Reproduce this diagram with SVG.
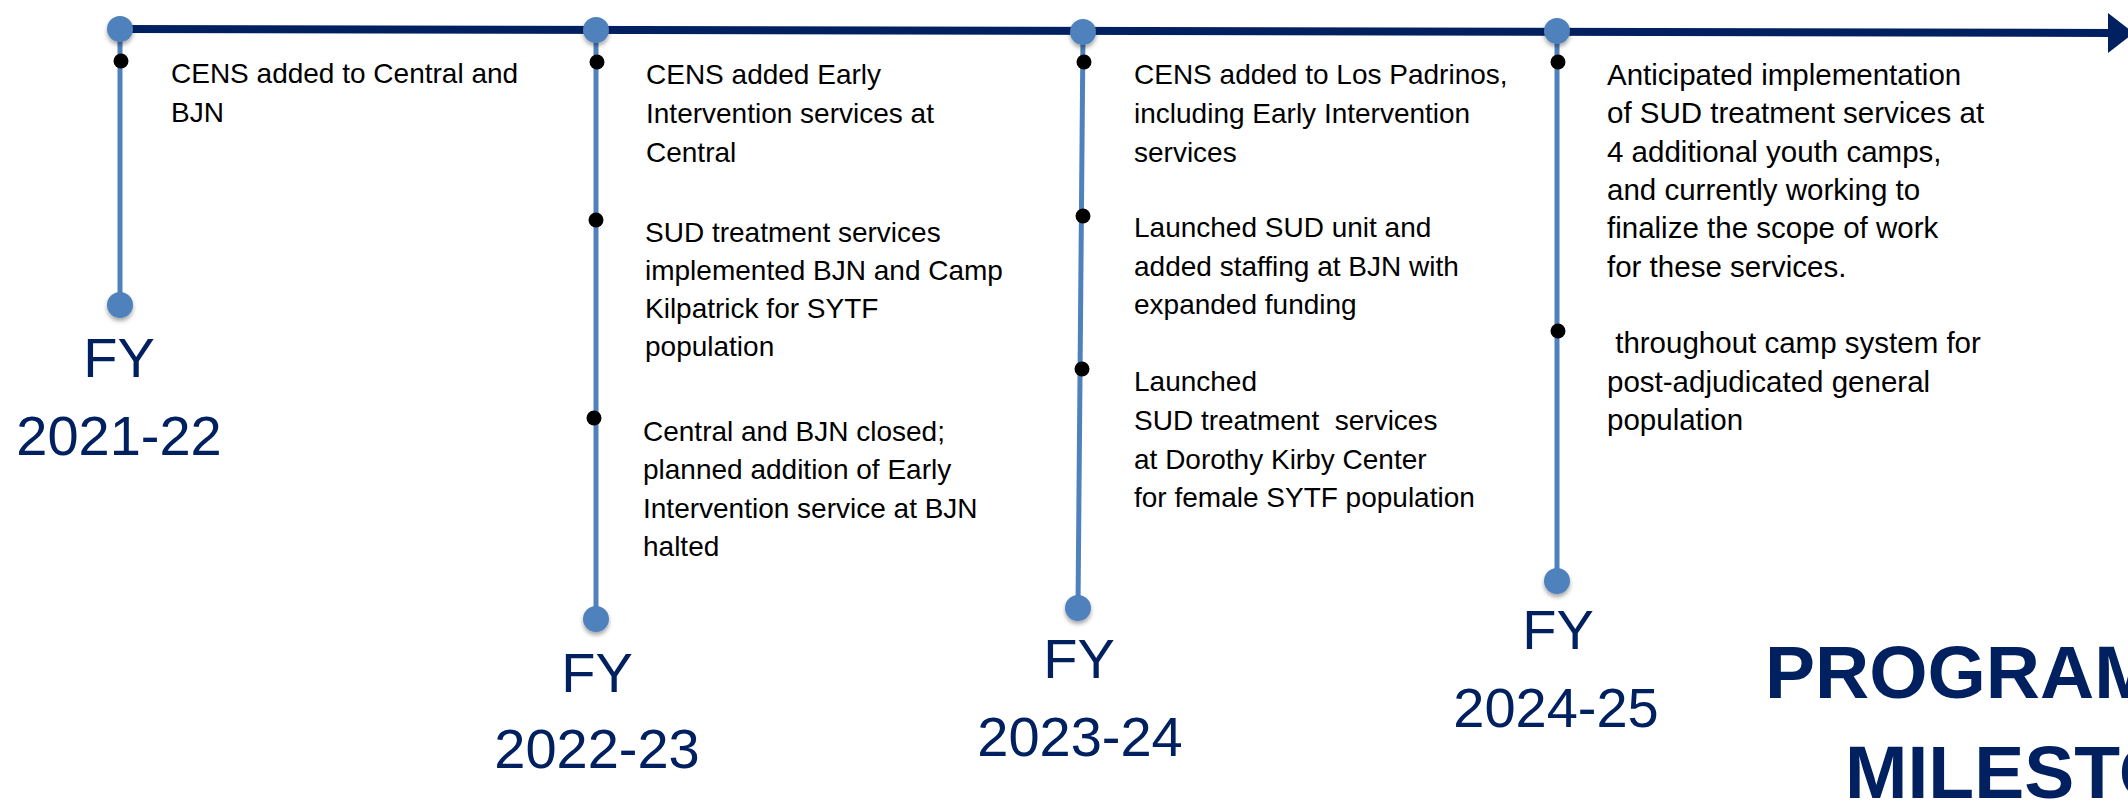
<svg xmlns="http://www.w3.org/2000/svg" width="2128" height="802" viewBox="0 0 2128 802">
<style>
.t{font-family:"Liberation Sans",Arial,sans-serif;font-size:28px;fill:#000;white-space:pre}
.t4{font-size:29.5px}
.fy{font-family:"Liberation Sans",Arial,sans-serif;font-size:56px;fill:#002060;text-anchor:middle}
.title{font-family:"Liberation Sans",Arial,sans-serif;font-size:75px;font-weight:bold;fill:#002060}
.stem{stroke:#4F81BD;stroke-width:5;fill:none}
.node{fill:#4F81BD;filter:url(#sh)}
.dot{fill:#000}
</style>
<defs>
<filter id="sh" x="-50%" y="-50%" width="200%" height="200%">
<feDropShadow dx="0" dy="3" stdDeviation="2" flood-color="#000" flood-opacity="0.35"/>
</filter>
</defs>
<rect width="2128" height="802" fill="#fff"/>
<g id="connectors">
<line x1="120" y1="29" x2="2112" y2="33" stroke="#002060" stroke-width="8"/>
<polygon points="2108,13 2108,53 2134,33" fill="#002060"/>
<line class="stem" x1="120" y1="29" x2="120" y2="305"/>
<line class="stem" x1="596" y1="30" x2="596" y2="619"/>
<line class="stem" x1="1083" y1="32" x2="1078" y2="608"/>
<line class="stem" x1="1557" y1="32" x2="1557" y2="581"/>
</g>
<g id="fy2021">
<circle class="node" cx="120" cy="29" r="13"/>
<circle class="node" cx="120" cy="305" r="13"/>
<circle class="dot" cx="121" cy="61" r="7.5"/>
<text class="t" x="171" y="83">CENS added to Central and</text>
<text class="t" x="171" y="122">BJN</text>
<text class="fy" x="119" y="377">FY</text>
<text class="fy" x="119" y="455">2021-22</text>
</g>
<g id="fy2022">
<circle class="node" cx="596" cy="30" r="13"/>
<circle class="node" cx="596" cy="619" r="13"/>
<circle class="dot" cx="597" cy="62" r="7.5"/>
<circle class="dot" cx="596" cy="220" r="7.5"/>
<circle class="dot" cx="594" cy="418" r="7.5"/>
<text class="t" x="646" y="84">CENS added Early</text>
<text class="t" x="646" y="123">Intervention services at</text>
<text class="t" x="646" y="162">Central</text>
<text class="t" x="645" y="242">SUD treatment services</text>
<text class="t" x="645" y="280">implemented BJN and Camp</text>
<text class="t" x="645" y="318">Kilpatrick for SYTF</text>
<text class="t" x="645" y="356">population</text>
<text class="t" x="643" y="441">Central and BJN closed;</text>
<text class="t" x="643" y="479">planned addition of Early</text>
<text class="t" x="643" y="518">Intervention service at BJN</text>
<text class="t" x="643" y="556">halted</text>
<text class="fy" x="597" y="692">FY</text>
<text class="fy" x="597" y="768">2022-23</text>
</g>
<g id="fy2023">
<circle class="node" cx="1083" cy="32" r="13"/>
<circle class="node" cx="1078" cy="608" r="13"/>
<circle class="dot" cx="1084" cy="62" r="7.5"/>
<circle class="dot" cx="1083" cy="216" r="7.5"/>
<circle class="dot" cx="1082" cy="369" r="7.5"/>
<text class="t" x="1134" y="84">CENS added to Los Padrinos,</text>
<text class="t" x="1134" y="123">including Early Intervention</text>
<text class="t" x="1134" y="162">services</text>
<text class="t" x="1134" y="237">Launched SUD unit and</text>
<text class="t" x="1134" y="276">added staffing at BJN with</text>
<text class="t" x="1134" y="314">expanded funding</text>
<text class="t" x="1134" y="391">Launched</text>
<text class="t" x="1134" y="430">SUD treatment  services</text>
<text class="t" x="1134" y="469">at Dorothy Kirby Center</text>
<text class="t" x="1134" y="507">for female SYTF population</text>
<text class="fy" x="1079" y="678">FY</text>
<text class="fy" x="1080" y="756">2023-24</text>
</g>
<g id="fy2024">
<circle class="node" cx="1557" cy="31" r="13"/>
<circle class="node" cx="1557" cy="581" r="13"/>
<circle class="dot" cx="1558" cy="62" r="7.5"/>
<circle class="dot" cx="1558" cy="331" r="7.5"/>
<text class="t t4" x="1607" y="85">Anticipated implementation</text>
<text class="t t4" x="1607" y="123">of SUD treatment services at</text>
<text class="t t4" x="1607" y="162">4 additional youth camps,</text>
<text class="t t4" x="1607" y="200">and currently working to</text>
<text class="t t4" x="1607" y="238">finalize the scope of work</text>
<text class="t t4" x="1607" y="277">for these services.</text>
<text class="t t4" x="1607" y="353"> throughout camp system for</text>
<text class="t t4" x="1607" y="392">post-adjudicated general</text>
<text class="t t4" x="1607" y="430">population</text>
<text class="fy" x="1558" y="649">FY</text>
<text class="fy" x="1556" y="727">2024-25</text>
</g>
<g id="title">
<text class="title" x="1765" y="698">PROGRAM</text>
<text class="title" x="1845" y="798">MILESTONES</text>
</g>
</svg>
